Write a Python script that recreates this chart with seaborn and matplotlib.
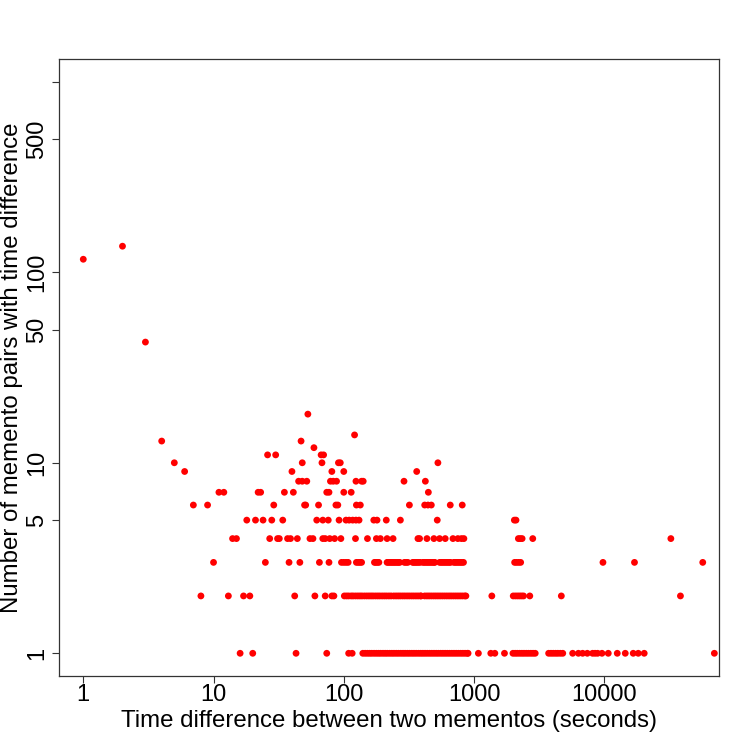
import matplotlib
matplotlib.use("Agg")
import matplotlib.pyplot as plt
import seaborn as sns
import pandas as pd

# x values (seconds) for each count level
x_c137 = [2]
x_c117 = [1]
x_c43 = [3]
x_c18 = [53]
x_c14 = [121]
x_c13 = [4, 47]
x_c12 = [59]
x_c11 = [26, 30, 67, 70]
x_c10 = [5, 48, 68, 91, 94, 528]
x_c9 = [6, 40, 81, 100, 363]
x_c8 = [45, 48, 52, 79, 83, 88, 124, 137, 141, 290, 423]
x_c7 = [11, 12, 22, 23, 35, 41, 74, 77, 100, 114, 446]
x_c6 = [7, 9, 29, 50, 51, 64, 87, 90, 125, 134, 319, 418, 443, 470, 657, 812]
x_c5 = [18, 21, 24, 28, 34, 62, 69, 76, 92, 104, 110, 117, 124, 131, 170, 180,
        212, 272, 522, 2040, 2100]
x_c4 = [14, 15, 27, 31, 32, 37, 39, 44, 55, 58, 69, 72, 78, 85, 95, 123, 152,
        178, 191, 215, 239, 371, 382, 435, 492, 544, 601, 689, 751, 800, 836,
        2190, 2260, 2340, 2824, 32450]
x_c3 = [10, 25, 38, 46, 65, 77, 96, 100, 104, 108, 125, 129, 133, 137, 172, 176,
        181, 186, 215, 220, 226, 232, 238, 244, 250, 257, 263, 269, 292, 301,
        310, 338, 346, 355, 364, 374, 385, 405, 416, 428, 440, 452, 465, 478,
        492, 500, 544, 560, 576, 592, 609, 626, 644, 660, 700, 720, 740, 762,
        784, 806, 830, 2050, 2120, 2200, 2280, 9770, 17060, 57020]
x_c2 = [8, 13, 17, 19, 42, 60, 72, 81, 84, 101, 105, 109, 114, 118, 123, 128,
        133, 138, 144, 150, 156, 162, 168, 175, 182, 189, 197, 205, 213, 222,
        231, 242, 252, 262, 272, 283, 294, 306, 318, 331, 344, 358, 372, 387,
        393, 418, 435, 452, 470, 489, 508, 528, 549, 571, 594, 618, 643, 668,
        695, 723, 752, 782, 813, 846, 866, 1370, 2000, 2080, 2160, 2240, 2320,
        2400, 2680, 4680, 38440]
x_c1 = [16, 20, 43, 74, 109, 116, 140, 146, 152, 158, 164, 171, 178, 185, 192,
        200, 208, 216, 225, 234, 243, 253, 263, 274, 285, 296, 308, 320, 333,
        346, 360, 375, 390, 405, 421, 438, 456, 474, 493, 513, 533, 555, 577,
        600, 624, 649, 675, 702, 730, 759, 790, 821, 854, 888, 900, 1080, 1345,
        1445, 1713, 1990, 2070, 2150, 2240, 2330, 2420, 2520, 2620, 2730, 2840,
        2950, 3740, 3900, 4060, 4230, 4400, 4600, 4800, 5718, 6330, 6820, 7410,
        8130, 8500, 8890, 9600, 10730, 12580, 14490, 16680, 18240, 20260, 70000]

levels = {137: x_c137, 117: x_c117, 43: x_c43, 18: x_c18, 14: x_c14, 13: x_c13,
          12: x_c12, 11: x_c11, 10: x_c10, 9: x_c9, 8: x_c8, 7: x_c7, 6: x_c6,
          5: x_c5, 4: x_c4, 3: x_c3, 2: x_c2, 1: x_c1}

x_ticks = [1, 10, 100, 1000, 10000]
x_tick_labels = ["1", "10", "100", "1000", "10000"]
y_ticks = [1, 5, 10, 50, 100, 500, 1000]
y_tick_labels = ["1", "5", "10", "50", "100", "500", ""]

rows = [(x, c) for c, xs in levels.items() for x in xs]
df = pd.DataFrame(rows, columns=["seconds", "count"])

sns.set_theme(style="ticks")
plt.rcParams["font.family"] = ["Liberation Sans", "DejaVu Sans"]
plt.rcParams["text.color"] = "black"
plt.rcParams["axes.labelcolor"] = "black"
plt.rcParams["xtick.color"] = "black"
plt.rcParams["ytick.color"] = "black"

fig = plt.figure(figsize=(7.5, 7.5), dpi=100)
ax = fig.add_axes([59 / 750, 74 / 750, 660 / 750, 617 / 750])

sns.scatterplot(data=df, x="seconds", y="count", ax=ax, color="#ff0000",
                s=24, linewidth=0, edgecolor="none", legend=False)

ax.set_xscale("log")
ax.set_yscale("log")
ax.set_xlim(0.651, 76000)
ax.set_ylim(0.760, 1316)

ax.minorticks_off()
ax.set_xticks(x_ticks)
ax.set_xticklabels(x_tick_labels)
ax.set_yticks(y_ticks)
ax.set_yticklabels(y_tick_labels, rotation=90, va="center")
ax.minorticks_off()

fs_tick = 17
fs_lab = 17.3
ax.tick_params(axis="both", direction="out", length=5, width=0.8,
               color="#333333", labelsize=fs_tick, labelcolor="black")
ax.tick_params(axis="x", pad=1)
ax.tick_params(axis="y", pad=3)

for sp in ax.spines.values():
    sp.set_visible(True)
    sp.set_color("#333333")
    sp.set_linewidth(0.9)

ax.set_xlabel("Time difference between two mementos (seconds)", fontsize=fs_lab)
ax.set_ylabel("Number of memento pairs with time difference", fontsize=fs_lab)
ax.xaxis.set_label_coords(0.5, -0.055)
ax.yaxis.set_label_coords(-0.0545, 0.5)

fig.savefig("out.png", dpi=100, facecolor="white")
